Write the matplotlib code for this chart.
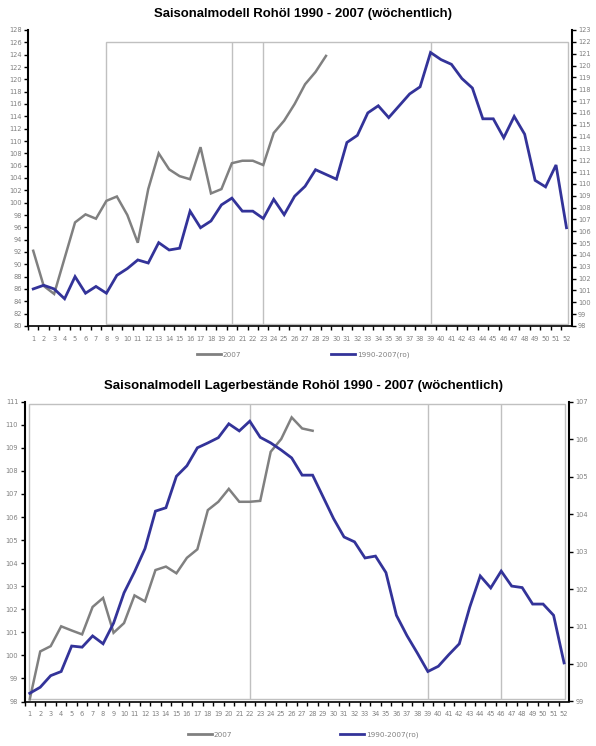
import matplotlib
matplotlib.use("Agg")
import matplotlib.pyplot as plt
from matplotlib.patches import Rectangle
from matplotlib.lines import Line2D
from matplotlib import font_manager

weeks = list(range(1, 53))

# ---- Chart 1: Rohöl ----
title1 = "Saisonalmodell Rohöl 1990 - 2007 (wöchentlich)"
oil_2007 = [92.2, 86.5, 85.2, 91.0, 96.8, 98.1, 97.4, 100.3, 101.0, 98.0,
            93.5, 102.2, 108.0, 105.4, 104.3, 103.8, 109.0, 101.5, 102.2, 106.4,
            106.8, 106.8, 106.1, 111.3, 113.3, 116.0, 119.2, 121.2, 123.8]
oil_avg = [101.13, 101.44, 101.13, 100.3, 102.17, 100.77, 101.34, 100.77, 102.28, 102.85,
           103.58, 103.32, 105.04, 104.42, 104.57, 107.7, 106.3, 106.87, 108.23, 108.8,
           107.7, 107.7, 107.08, 108.7, 107.4, 108.96, 109.8, 111.2, 110.8, 110.4,
           113.5, 114.1, 116.0, 116.6, 115.6, 116.6, 117.6, 118.2, 121.1, 120.5,
           120.1, 118.9, 118.1, 115.5, 115.5, 113.9, 115.7, 114.2, 110.3, 109.75,
           111.6, 106.3]
oil_marks = [20, 23, 39]
oil_box = (8, 80.4, 52.1, 126)

# ---- Chart 2: Lagerbestände ----
title2 = "Saisonalmodell Lagerbestände Rohöl 1990 - 2007 (wöchentlich)"
stock_2007 = [98.09, 100.17, 100.4, 101.26, 101.08, 100.91, 102.1, 102.49, 100.98, 101.4,
              102.6, 102.34, 103.7, 103.85, 103.56, 104.23, 104.6, 106.3, 106.66, 107.22,
              106.66, 106.66, 106.7, 108.83, 109.38, 110.32, 109.84, 109.74]
stock_avg = [99.22, 99.38, 99.69, 99.80, 100.48, 100.45, 100.75, 100.54, 101.09, 101.90,
             102.46, 103.08, 104.08, 104.17, 105.01, 105.29, 105.77, 105.90, 106.04, 106.41,
             106.22, 106.48, 106.05, 105.90, 105.71, 105.50, 105.04, 105.04, 104.46, 103.88,
             103.39, 103.26, 102.83, 102.88, 102.44, 101.30, 100.76, 100.29, 99.80, 99.94,
             100.25, 100.54, 101.52, 102.35, 102.03, 102.48, 102.08, 102.04, 101.60, 101.60,
             101.30, 100.03]
stock_marks = [22, 39, 46]
stock_box = (0.9, 98.12, 52.1, 110.88)

labels = ["2007", "1990-2007(ro)"]

GRAY = "#808080"
BLUE = "#333399"
BOXC = "#c0c0c0"
TICKC = "#808080"

W, H = 596, 746
fig = plt.figure(figsize=(W / 100, H / 100), dpi=100)

avail = {f.name for f in font_manager.fontManager.ttflist}
title_family = ["Liberation Sans Narrow", "Liberation Sans", "DejaVu Sans"]
title_family = [f for f in title_family if f in avail] or ["DejaVu Sans"]


def px_rect(l, t, r, b):
    return [l / W, 1 - b / H, (r - l) / W, (b - t) / H]


def style_axis(ax, side):
    ax.spines["top"].set_visible(False)
    ax.spines["bottom"].set_linewidth(1.2)
    ax.spines[side].set_linewidth(1.5)
    other = "right" if side == "left" else "left"
    ax.spines[other].set_visible(False)
    ax.tick_params(axis="y", direction="out", length=3, width=1, colors="black",
                   labelsize=4.8, labelcolor=TICKC, pad=1.5)


def make_chart(rect, left_vals, right_vals, ylim_l, yt_l, ylim_r, yt_r, marks, box,
               title, title_y, title_w, legend_y, legend_x, colspace):
    ax = fig.add_axes(rect)
    ax.set_facecolor("none")
    style_axis(ax, "left")
    ax.plot(weeks[:len(left_vals)], left_vals, color=GRAY, lw=1.8, solid_joinstyle="miter", zorder=3)
    ax.set_xlim(0.5, 52.5)
    ax.set_ylim(*ylim_l)
    ax.set_yticks(yt_l)
    ax.set_xticks([w + 0.5 for w in weeks[:-1]] + [0.5], minor=False)
    ax.set_xticklabels([])
    ax.set_xticks(weeks, minor=True)
    ax.set_xticklabels([str(w) for w in weeks], minor=True)
    ax.tick_params(axis="x", which="major", direction="out", length=3, width=1, colors="black")
    ax.tick_params(axis="x", which="minor", length=0, labelsize=4.8, labelcolor=TICKC, pad=7)
    x0, y0, x1, y1 = box
    ax.add_patch(Rectangle((x0, y0), x1 - x0, y1 - y0, fill=False, ec=BOXC, lw=1.0, zorder=1))
    ax.vlines(marks, y0, y1, colors=BOXC, lw=1.0, zorder=1)

    ax2 = ax.twinx()
    style_axis(ax2, "right")
    ax2.spines["bottom"].set_visible(False)
    ax2.plot(weeks[:len(right_vals)], right_vals, color=BLUE, lw=2.0, solid_joinstyle="miter", zorder=4)
    ax2.set_ylim(*ylim_r)
    ax2.set_yticks(yt_r)
    ax2.set_xlim(0.5, 52.5)

    t = fig.text(0.5, title_y, title, ha="center", va="center", fontsize=11,
                 fontweight="bold", family=title_family)
    fig.canvas.draw()
    w = t.get_window_extent(fig.canvas.get_renderer()).width
    t.set_fontsize(11 * title_w / w)
    t.set_x(legend_x / W)

    handles = [Line2D([], [], color=GRAY, lw=2.0), Line2D([], [], color=BLUE, lw=2.0)]
    fig.legend(handles, labels, loc="center", bbox_to_anchor=(legend_x / W, legend_y),
               ncol=2, frameon=False, fontsize=5.2, labelcolor=TICKC, handlelength=3.3,
               handletextpad=0.25, columnspacing=colspace)
    return ax, ax2


make_chart(px_rect(28, 30, 571.7, 326), oil_2007, oil_avg,
           (80, 128), list(range(80, 129, 2)), (98, 123), list(range(98, 124)),
           oil_marks, oil_box, title1, 1 - 14 / H, 300, 1 - 355 / H, 303, 12.5)

make_chart(px_rect(24.5, 401.7, 569.3, 701.5), stock_2007, stock_avg,
           (98, 111), list(range(98, 112)), (99, 107), list(range(99, 108)),
           stock_marks, stock_box, title2, 1 - 386 / H, 400, 1 - 735 / H, 303, 15)

fig.savefig("out.png", dpi=100)
